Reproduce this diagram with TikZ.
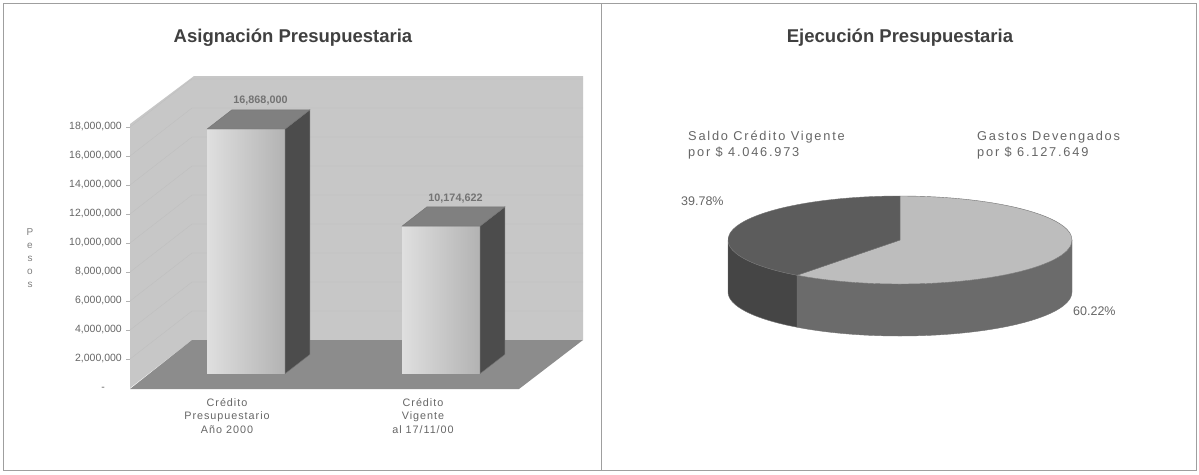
\documentclass[tikz,border=0pt]{standalone}
\usepackage{fontspec}
\setmainfont{Liberation Sans}
\newfontfamily\pielblfont[LetterSpace=14]{Liberation Sans}
\newfontfamily\catlblfont[LetterSpace=9]{Liberation Sans}

\definecolor{wallgray}{gray}{0.78}
\definecolor{floorgray}{gray}{0.55}
\definecolor{barside}{gray}{0.30}
\definecolor{bartop}{gray}{0.50}
\definecolor{piedark}{gray}{0.36}
\definecolor{pielight}{gray}{0.74}
\definecolor{piedarkside}{gray}{0.27}
\definecolor{pielightside}{gray}{0.42}

\begin{document}
\begin{tikzpicture}[x=1pt, y=-1pt,
	panel/.style={draw=gray!75, line width=0.7pt},
	charttitle/.style={font=\bfseries\fontsize{18.5}{20}\selectfont, text=black!75},
	axislbl/.style={font=\fontsize{10.5}{12}\selectfont, text=black!60, anchor=east, inner sep=0pt},
	catlbl/.style={font=\catlblfont\fontsize{10.8}{13.5}\selectfont, text=black!60, align=center, anchor=north, inner sep=0pt},
	vallbl/.style={font=\bfseries\fontsize{10.8}{12}\selectfont, text=black!55, inner sep=0pt},
	pielbl/.style={font=\pielblfont\fontsize{12.8}{16}\selectfont, text=black!60, align=left, anchor=north west, inner sep=0pt},
	pctlbl/.style={font=\fontsize{12.5}{15}\selectfont, text=black!60, anchor=west, inner sep=0pt},
	gridline/.style={draw=gray!50, line width=0.4pt},
	edge/.style={draw=black!55, line width=0.4pt}
	]
	\useasboundingbox (0, 0) rectangle (1199, 474);
	\fill[white] (0, 0) rectangle (1199, 474);

	\draw[panel] (3, 3) rectangle (601, 470);
	\draw[panel] (601, 3) rectangle (1196, 470);

	% asignacion: 3d columns
	\node[charttitle] (titleA) at (293, 38) {Asignación Presupuestaria};

	\fill[wallgray] (130, 388) -- (130, 124) -- (194, 76) -- (583, 76) -- (583, 340) -- (192, 340) -- cycle;
	\fill[floorgray] (130, 389) -- (519, 389) -- (583, 340) -- (192, 340) -- cycle;

	\foreach \k in {1, ..., 9} {
		\pgfmathsetmacro\yy{388 - 29*\k}
		\draw[gridline] (130, \yy) -- (192, \yy - 48) -- (583, \yy - 48);
		\draw[gray!60] (126, \yy) -- (130, \yy);
	}

	\foreach \k/\txt in {1/{2,000,000}, 2/{4,000,000}, 3/{6,000,000}, 4/{8,000,000}, 5/{10,000,000},
		6/{12,000,000}, 7/{14,000,000}, 8/{16,000,000}, 9/{18,000,000}}
		\node[axislbl] (ytick\k) at (122, 388 - 29*\k) {\txt};
	\node[axislbl] (ytick0) at (105, 389) {-};
	\node[font=\fontsize{10}{13}\selectfont, text=black!50, align=center] (ytitle) at (30, 258) {P\\e\\s\\o\\s};

	\node[catlbl] (catA) at (227, 398) {Crédito\\Presupuestario\\Año 2000};
	\node[catlbl] (catB) at (423, 398) {Crédito\\Vigente\\al 17/11/00};

	\foreach \cx/\val/\lbl/\nm in {227.5/16.868/{16,868,000}/barA, 422.5/10.174622/{10,174,622}/barB} {
		\pgfmathsetmacro\yt{373.6 - 14.5*\val}
		\pgfmathsetmacro\xl{\cx - 20.4}
		\pgfmathsetmacro\xr{\cx + 57.6}
		\shade[left color=gray!25, right color=gray!60] (\xl, 373.6) rectangle (\xr, \yt);
		\filldraw[fill=barside, edge] (\xr, 373.6) -- (\xr, \yt) -- ++(24.8, -19.2) -- (\xr + 24.8, 354.4) -- cycle;
		\filldraw[fill=bartop, edge] (\xl, \yt) -- (\xr, \yt) -- ++(24.8, -19.2) -- (\xl + 24.8, \yt - 19.2) -- cycle;
		\node[vallbl] (\nm) at (\cx + 33, \yt - 28) {\lbl};
	}

	% ejecucion: 3d pie
	\node[charttitle] (titleB) at (900, 38) {Ejecución Presupuestaria};
	\coordinate (pc) at (900, 240);

	\filldraw[fill=pielightside, edge] ([shift={(0:172 and 44)}]pc)
		arc[start angle=0, end angle=126.8, x radius=172, y radius=44] -- ++(0, 52)
		arc[start angle=126.8, end angle=0, x radius=172, y radius=44] -- cycle;
	\filldraw[fill=piedarkside, edge] ([shift={(126.8:172 and 44)}]pc)
		arc[start angle=126.8, end angle=180, x radius=172, y radius=44] -- ++(0, 52)
		arc[start angle=180, end angle=126.8, x radius=172, y radius=44] -- cycle;

	\filldraw[fill=pielight, edge] (pc) -- ([shift={(-90:172 and 44)}]pc)
		arc[start angle=-90, end angle=126.8, x radius=172, y radius=44] -- cycle;
	\filldraw[fill=piedark, edge] (pc) -- ([shift={(126.8:172 and 44)}]pc)
		arc[start angle=126.8, end angle=270, x radius=172, y radius=44] -- cycle;

	\node[pielbl] (lblSaldo) at (688, 131) {Saldo Crédito Vigente\\por \$ 4.046.973};
	\node[pielbl] (lblGastos) at (977, 131) {Gastos Devengados\\por \$ 6.127.649};
	\node[pctlbl] (pctSaldo) at (681, 201) {39.78\%};
	\node[pctlbl] (pctGastos) at (1073, 311) {60.22\%};
\end{tikzpicture}
\end{document}
